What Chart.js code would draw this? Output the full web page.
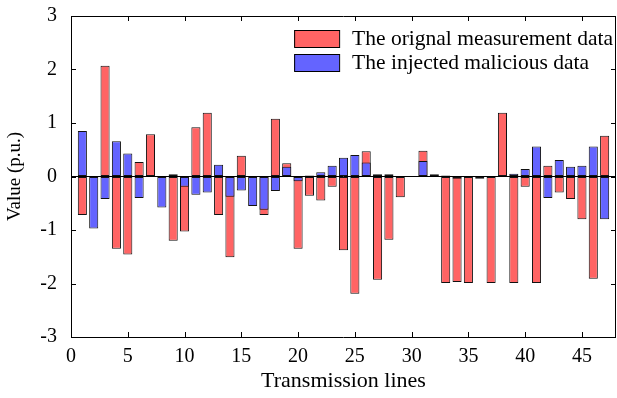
<!DOCTYPE html>
<html>
<head>
<meta charset="utf-8">
<script src="https://cdn.jsdelivr.net/npm/chart.js@4"></script>
<style>
  html, body { margin: 0; padding: 0; background: #fff; }
  #wrap { width: 617px; height: 398px; }
</style>
</head>
<body>
<div id="wrap"><canvas id="chart" width="617" height="398"></canvas></div>
<script>
const lines = [1,2,3,4,5,6,7,8,9,10,11,12,13,14,15,16,17,18,19,20,21,22,23,24,25,26,27,28,29,30,31,32,33,34,35,36,37,38,39,40,41,42,43,44,45,46,47];
const original = [-0.72, null, 2.07, -1.35, -1.46, 0.27, 0.79, null, -1.20, -1.03,
  0.92, 1.19, -0.72, -1.51, 0.39, null, -0.72, 1.08, 0.25, -1.35,
  -0.36, -0.45, -0.19, -1.38, -2.19, 0.47, -1.93, -1.18, -0.39, null,
  0.48, null, -1.99, -1.97, -1.99, null, -1.99, 1.19, -1.99, -0.19,
  -1.99, 0.20, -0.30, -0.42, -0.80, -1.91, 0.76];
const injected = [0.85, -0.97, -0.42, 0.66, 0.43, -0.40, null, -0.58, 0.04, -0.19,
  -0.34, -0.30, 0.22, -0.38, -0.26, -0.55, -0.62, -0.27, 0.18, -0.09,
  0.02, 0.08, 0.20, 0.35, 0.40, 0.26, 0.04, 0.04, null, null,
  0.29, 0.04, 0.02, -0.04, null, -0.04, -0.01, 0.03, 0.05, 0.14,
  0.56, -0.40, 0.31, 0.18, 0.20, 0.56, -0.80];
const seriesNames = ["The orignal measurement data", "The injected malicious data"];
const xTitle = "Transmission lines";
const yTitle = "Value (p.u.)";

const FONT = "'Liberation Serif', 'Times New Roman', serif";

// box with inward ticks on all four sides, like the matlab figure
const frameTicks = {
  id: "frameTicks",
  afterDatasetsDraw(chart) {
    const { ctx, chartArea: a, scales } = chart;
    ctx.save();
    ctx.strokeStyle = "#000";
    ctx.lineWidth = 1;
    ctx.beginPath();
    ctx.rect(Math.round(a.left) + 0.5, Math.round(a.top) + 0.5, Math.round(a.right - a.left) - 1, Math.round(a.bottom - a.top));
    scales.x.ticks.forEach(t => {
      const px = Math.round(scales.x.getPixelForValue(t.value)) + 0.5;
      ctx.moveTo(px, a.bottom); ctx.lineTo(px, a.bottom - 5);
      ctx.moveTo(px, a.top); ctx.lineTo(px, a.top + 5);
    });
    scales.y.ticks.forEach(t => {
      const py = Math.round(scales.y.getPixelForValue(t.value)) + 0.5;
      ctx.moveTo(a.left, py); ctx.lineTo(a.left + 5, py);
      ctx.moveTo(a.right, py); ctx.lineTo(a.right - 5, py);
    });
    ctx.stroke();
    ctx.restore();
  }
};

// legend in the upper right corner of the plot
const cornerLegend = {
  id: "cornerLegend",
  afterDraw(chart) {
    const { ctx, chartArea: a } = chart;
    ctx.save();
    ctx.font = "21.5px " + FONT;
    const ds = chart.data.datasets;
    const maxW = Math.max(...ds.map(d => ctx.measureText(d.label).width));
    const textX = a.right - 3 - maxW;
    const boxX = textX - 13 - 45;
    ds.forEach((d, i) => {
      const cy = a.top + 22 + i * 24;
      ctx.fillStyle = d.backgroundColor;
      ctx.fillRect(boxX, cy - 8, 45, 17);
      ctx.strokeStyle = "#000";
      ctx.lineWidth = 1;
      ctx.strokeRect(boxX + 0.5, cy - 8 + 0.5, 45, 17);
      ctx.fillStyle = "#000";
      ctx.textBaseline = "middle";
      ctx.fillText(d.label, textX, cy + 1);
    });
    ctx.restore();
  }
};

new Chart(document.getElementById("chart").getContext("2d"), {
  type: "bar",
  data: {
    labels: lines,
    datasets: [
      { label: seriesNames[0], data: original, backgroundColor: "#ff6464", borderColor: "#111", borderWidth: 1, borderSkipped: false, grouped: false, order: 1 },
      { label: seriesNames[1], data: injected, backgroundColor: "#6464ff", borderColor: "#111", borderWidth: 1, borderSkipped: false, grouped: false, order: 0 }
    ]
  },
  options: {
    responsive: false,
    maintainAspectRatio: false,
    animation: false,
    layout: { padding: { left: 0, right: 1, top: 16, bottom: 0 } },
    datasets: { bar: { barPercentage: 0.8, categoryPercentage: 1 } },
    plugins: { legend: { display: false }, tooltip: { enabled: false } },
    scales: {
      x: {
        type: "linear",
        min: 0, max: 48,
        offset: false,
        grid: { display: false, offset: false, drawTicks: false },
        border: { display: false },
        ticks: { stepSize: 5, includeBounds: false, color: "#000", padding: 8, maxRotation: 0, font: { family: FONT, size: 20 } },
        title: { display: true, text: xTitle, color: "#000", padding: { top: 0 }, font: { family: FONT, size: 22 } },
        afterFit: s => { s.height = 61; s.paddingLeft = 0; s.paddingRight = 0; }
      },
      y: {
        min: -3, max: 3,
        grid: { drawTicks: false, color: c => c.tick && c.tick.value === 0 ? "#000" : "rgba(0,0,0,0)" },
        border: { display: false },
        ticks: { stepSize: 1, color: "#000", padding: 14, font: { family: FONT, size: 20 } },
        title: { display: true, text: yTitle, color: "#000", padding: { bottom: 2 }, font: { family: FONT, size: 19 } },
        afterFit: s => { s.width = 71; s.paddingTop = 0; s.paddingBottom = 0; }
      }
    }
  },
  plugins: [frameTicks, cornerLegend]
});
</script>
</body>
</html>
